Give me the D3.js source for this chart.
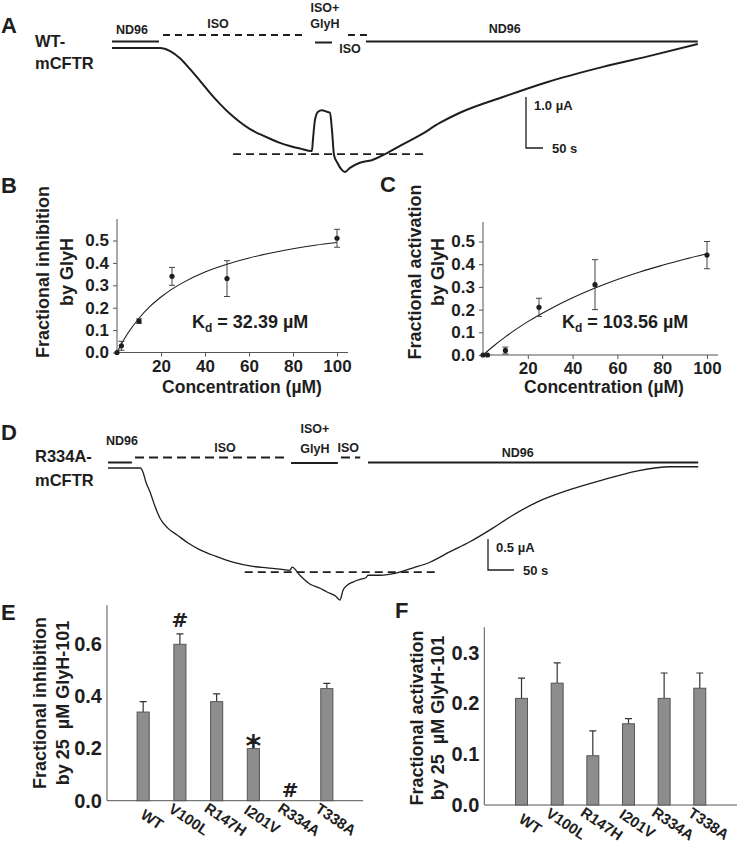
<!DOCTYPE html>
<html><head><meta charset="utf-8">
<script src="https://cdn.jsdelivr.net/npm/d3@7"></script>
<style>
body{margin:0;background:#fff}
svg{display:block}
text{font-family:"Liberation Sans",Arial,sans-serif;font-weight:bold;fill:#1e1e1e}
</style>
</head><body>
<svg id="c" width="741" height="844"></svg>
<script>
// ---------------- DATA ----------------
// Panel A: WT-mCFTR current trace [time (s), current (µA)]
const traceA = [[0,0],[141,0],[171,-0.06],[200,-0.20],[229,-0.41],[259,-0.645],[288,-0.88],[318,-1.10],[347,-1.29],[376,-1.45],[406,-1.59],[435,-1.69],[465,-1.78],[494,-1.86],[523,-1.92],[553,-1.97],[588,-2.02],[591,-1.80],[597,-1.41],[606,-1.25],[617,-1.22],[632,-1.25],[641,-1.27],[647,-1.61],[653,-2.10],[662,-2.24],[676,-2.39],[685,-2.43],[700,-2.35],[729,-2.25],[764,-2.20],[809,-2.06],[847,-1.92],[906,-1.71],[964,-1.47],[1023,-1.27],[1150,-0.96],[1279,-0.67],[1444,-0.37],[1591,-0.14],[1723,0.08]];
const protocolA = [["ND96",0,138],["ISO",150,573],["ISO+GlyH",597,647],["ISO",694,753],["ND96",747,1723]];
const baselineA = {level:-2.08, from:356, to:920};
const scaleBarA = {current:1.0, time:50};

// Panel D: R334A-mCFTR current trace [time (s), current (µA)]
const traceD = [[0,0],[62,0],[67,-0.06],[73,-0.23],[81,-0.39],[90,-0.61],[100,-0.81],[115,-0.97],[133,-1.08],[154,-1.21],[177,-1.32],[206,-1.42],[240,-1.52],[273,-1.58],[306,-1.61],[331,-1.63],[350,-1.65],[354,-1.60],[369,-1.73],[388,-1.87],[408,-1.94],[421,-2.00],[437,-2.06],[446,-2.13],[452,-1.97],[460,-1.89],[471,-1.84],[488,-1.79],[496,-1.77],[500,-1.73],[523,-1.73],[556,-1.69],[587,-1.61],[619,-1.52],[658,-1.35],[696,-1.19],[740,-0.97],[773,-0.79],[825,-0.55],[888,-0.35],[952,-0.19],[1017,-0.05],[1081,0.02],[1135,0.02]];
const protocolD = [["ND96",0,46],["ISO",52,344],["ISO+GlyH",352,442],["ISO",448,485],["ND96",500,1135]];
const baselineD = {level:-1.68, from:263, to:629};
const scaleBarD = {current:0.5, time:50};

// Panel B: fractional inhibition vs concentration
const concB = [0, 2, 10, 25, 50, 100];
const inhB = [0.0, 0.03, 0.14, 0.34, 0.33, 0.51];
const inhErrB = [0, 0.02, 0.01, 0.04, 0.08, 0.04];
const fitConcB = [0, 2, 5, 10, 15, 20, 25, 30, 40, 50, 60, 70, 80, 90, 100];
const fitB = [0, 0.038, 0.087, 0.153, 0.206, 0.248, 0.283, 0.312, 0.359, 0.394, 0.422, 0.444, 0.463, 0.479, 0.491];
const kdB = "32.39";

// Panel C: fractional activation vs concentration
const concC = [0, 2, 10, 25, 50, 100];
const actC = [0.0, 0.0, 0.02, 0.21, 0.31, 0.44];
const actErrC = [0, 0, 0.015, 0.04, 0.11, 0.06];
const fitConcC = [0, 5, 10, 20, 30, 40, 50, 60, 70, 80, 90, 100];
const fitC = [0, 0.042, 0.080, 0.147, 0.203, 0.252, 0.295, 0.333, 0.366, 0.395, 0.422, 0.446];
const kdC = "103.56";

const concTicks = [20, 40, 60, 80, 100];
const fracTicksBC = [0, 0.1, 0.2, 0.3, 0.4, 0.5];

// Panels E & F: mutants
const mutants = ["WT", "V100L", "R147H", "I201V", "R334A", "T338A"];
const inhE = [0.34, 0.60, 0.38, 0.20, 0, 0.43];
const inhErrE = [0.04, 0.04, 0.03, 0.02, 0, 0.02];
const marksE = ["", "#", "", "*", "#", ""];
const ticksE = [0, 0.2, 0.4, 0.6];
const actF = [0.21, 0.24, 0.097, 0.16, 0.21, 0.23];
const actErrF = [0.04, 0.04, 0.049, 0.01, 0.05, 0.03];
const ticksF = [0, 0.1, 0.2, 0.3];

// ---------------- DRAW ----------------
const svg = d3.select("#c");
svg.append("rect").attr("width",741).attr("height",844).attr("fill","#fff");
const ink = "#1e1e1e";
const FONT = '"Liberation Sans",Arial,sans-serif';

function panelLetter(t, x, y){
  svg.append("text").attr("x",x).attr("y",y).attr("font-size",22).text(t);
}

function drawTrace(cfg){
  const x = cfg.x, y = cfg.y;
  const g = svg.append("g");
  cfg.protocol.forEach(p=>{
    const dashed = p[0] === "ISO";
    const lvl = cfg.lvl[p[0]] !== undefined ? cfg.lvl[p[0]] : 0;
    g.append("line").attr("x1",x(p[1])).attr("x2",x(p[2]))
      .attr("y1",y(0)+lvl).attr("y2",y(0)+lvl)
      .attr("stroke",ink).attr("stroke-width",2)
      .attr("stroke-dasharray",dashed?cfg.dash:null);
  });
  cfg.labels.forEach(l=>{
    g.append("text").attr("x",x(l[1])).attr("y",l[2]).attr("text-anchor","middle")
      .attr("font-size",12.5).text(l[0]);
  });
  g.append("line").attr("x1",x(cfg.base.from)).attr("x2",x(cfg.base.to))
    .attr("y1",y(cfg.base.level)).attr("y2",y(cfg.base.level))
    .attr("stroke",ink).attr("stroke-width",1.6).attr("stroke-dasharray","8,5");
  g.append("path").datum(cfg.trace)
    .attr("d", d3.line().x(d=>x(d[0])).y(d=>y(d[1])).curve(d3.curveMonotoneX))
    .attr("fill","none").attr("stroke",ink).attr("stroke-width",cfg.tw);
  const sb = cfg.sb, bx = cfg.sbX, by = cfg.sbY;
  const h = y(-sb.current) - y(0), w = x(sb.time) - x(0);
  g.append("path").attr("d",`M${bx},${by-h}V${by}H${bx+w}`)
    .attr("fill","none").attr("stroke",ink).attr("stroke-width",1.3);
  g.append("text").attr("x",bx+8).attr("y",by-h+13).attr("font-size",13)
    .text(sb.current.toFixed(1)+" µA");
  g.append("text").attr("x",bx+w+9).attr("y",by+5).attr("font-size",13)
    .text(sb.time+" s");
  cfg.name.forEach((n,i)=>{
    g.append("text").attr("x",35).attr("y",cfg.nameY[i]).attr("font-size",16.5).text(n);
  });
}

{
  const x = d3.scaleLinear().domain([0,50]).range([112,129]);
  const y = d3.scaleLinear().domain([0,-1]).range([48,99]);
  drawTrace({x,y,trace:traceA,protocol:protocolA,base:baselineA,sb:scaleBarA,
    lvl:{"ND96":-6.5,"ISO":-13,"ISO+GlyH":-5.5}, dash:"7,5", tw:2,
    labels:[["ND96",59,34],["ISO",312,28],["ISO+",626,12],["GlyH",626,28],["ISO",700,53],["ND96",1155,33]],
    sbX:526, sbY:148, name:["WT-","mCFTR"], nameY:[47,69]});
  panelLetter("A",1,33);
}
{
  const x = d3.scaleLinear().domain([0,50]).range([108,134]);
  const y = d3.scaleLinear().domain([0,-0.5]).range([468,499]);
  drawTrace({x,y,trace:traceD,protocol:protocolD,base:baselineD,sb:scaleBarD,
    lvl:{"ND96":-5.5,"ISO":-10.5,"ISO+GlyH":-5}, dash:"9,5", tw:1.3,
    labels:[["ND96",27,445],["ISO",225,452],["ISO+",398,433],["GlyH",398,453],["ISO",462,452],["ND96",788,457]],
    sbX:488, sbY:570, name:["R334A-","mCFTR"], nameY:[462,486]});
  panelLetter("D",1,440);
}

function doseResponse(cfg){
  const g = svg.append("g");
  const x = d3.scaleLinear().domain([0,100]).range(cfg.xr);
  const y = d3.scaleLinear().domain([0,0.5]).range(cfg.yr);
  const axc = "#555";
  g.append("line").attr("x1",x(0)).attr("x2",x(0)).attr("y1",cfg.top).attr("y2",y(0)).attr("stroke",axc);
  g.append("line").attr("x1",x(0)).attr("x2",cfg.xend).attr("y1",y(0)).attr("y2",y(0)).attr("stroke",axc);
  const ya = g.append("g").attr("transform",`translate(${x(0)},0)`)
    .call(d3.axisLeft(y).tickValues(fracTicksBC).tickFormat(d3.format(".1f")).tickSize(4).tickPadding(4));
  const xa = g.append("g").attr("transform",`translate(0,${y(0)})`)
    .call(d3.axisBottom(x).tickValues(concTicks).tickSize(4).tickPadding(3));
  [ya,xa].forEach(a=>{
    a.select(".domain").remove();
    a.selectAll("line").attr("stroke",axc);
    a.selectAll("text").attr("font-size",17).attr("fill",ink);
  });
  g.append("path").datum(cfg.fitX.map((c,i)=>[c,cfg.fitY[i]]))
    .attr("d",d3.line().x(d=>x(d[0])).y(d=>y(d[1])).curve(d3.curveMonotoneX))
    .attr("fill","none").attr("stroke",ink).attr("stroke-width",1.1);
  cfg.cx.forEach((c,i)=>{
    const e = cfg.err[i]; if(!e) return;
    const xx = x(c), y1 = y(cfg.val[i]+e), y2 = y(cfg.val[i]-e);
    g.append("path").attr("d",`M${xx},${y1}V${y2}M${xx-3},${y1}H${xx+3}M${xx-3},${y2}H${xx+3}`)
      .attr("stroke","#444").attr("fill","none").attr("stroke-width",1);
  });
  g.selectAll("circle.p").data(cfg.cx).join("circle")
    .attr("cx",c=>x(c)).attr("cy",(c,i)=>y(cfg.val[i])).attr("r",2.6).attr("fill",ink);
  const t = g.append("text").attr("x",cfg.kdX).attr("y",cfg.kdY).attr("font-size",18);
  t.append("tspan").text("K");
  t.append("tspan").attr("font-size",12).attr("dy",4).text("d");
  t.append("tspan").attr("dy",-4).text(" = "+cfg.kd+" µM");
  g.append("text").attr("x",cfg.xlabX).attr("y",393).attr("text-anchor","middle").attr("font-size",17.5).text("Concentration (µM)");
  cfg.ylab.forEach((l,i)=>{
    g.append("text").attr("transform",`translate(${cfg.ylabX[i]},${cfg.ylabY}) rotate(-90)`)
      .attr("text-anchor","middle").attr("font-size",18).text(l);
  });
}
doseResponse({xr:[117,337], yr:[352.5,240.5], top:219, xend:348, cx:concB, val:inhB, err:inhErrB,
  fitX:fitConcB, fitY:fitB, kd:kdB, kdX:192, kdY:328, xlabX:242,
  ylab:["Fractional inhibition","by GlyH"], ylabX:[49,73], ylabY:272});
panelLetter("B",1,193);
doseResponse({xr:[483,707], yr:[355,241.5], top:222, xend:718, cx:concC, val:actC, err:actErrC,
  fitX:fitConcC, fitY:fitC, kd:kdC, kdX:562, kdY:328, xlabX:604,
  ylab:["Fractional activation","by GlyH"], ylabX:[421,444], ylabY:272});
panelLetter("C",380,192);

function barPanel(cfg){
  const g = svg.append("g");
  const x = d3.scaleBand().domain(mutants).range([cfg.x0,cfg.x1]).paddingInner(cfg.pi).paddingOuter(cfg.po);
  const y = d3.scaleLinear().domain(cfg.dom).range([cfg.y0,cfg.ytop]);
  const axc = "#555";
  g.append("line").attr("x1",cfg.x0).attr("x2",cfg.x0).attr("y1",cfg.ytop).attr("y2",cfg.y0).attr("stroke",axc);
  g.append("line").attr("x1",cfg.x0).attr("x2",cfg.x1).attr("y1",cfg.y0).attr("y2",cfg.y0).attr("stroke",axc);
  const ya = g.append("g").attr("transform",`translate(${cfg.x0},0)`)
    .call(d3.axisLeft(y).tickValues(cfg.ticks).tickFormat(d3.format(".1f")).tickSize(0).tickPadding(5));
  ya.select(".domain").remove();
  ya.selectAll("text").attr("font-size",20).attr("fill",ink);
  mutants.forEach((m,i)=>{
    const e = cfg.err[i]; if(!cfg.val[i]) return;
    const cx = x(m)+x.bandwidth()/2, yt = y(cfg.val[i]+e), yb = y(cfg.val[i]);
    g.append("path").attr("d",`M${cx},${yb}V${yt}M${cx-3.5},${yt}H${cx+3.5}`)
      .attr("stroke","#333").attr("stroke-width",1.2).attr("fill","none");
  });
  g.selectAll("rect.b").data(mutants.filter((m,i)=>cfg.val[i]>0)).join("rect")
    .attr("x",m=>x(m)).attr("width",x.bandwidth())
    .attr("y",m=>y(cfg.val[mutants.indexOf(m)]))
    .attr("height",m=>cfg.y0-y(cfg.val[mutants.indexOf(m)]))
    .attr("fill","#8d8d8d").attr("stroke","#555").attr("stroke-width",1);
  mutants.forEach(m=>{
    const cx = x(m)+x.bandwidth()/2 + 6;
    g.append("text").attr("transform",`translate(${cx},${cfg.y0+23}) rotate(34)`)
      .attr("text-anchor","middle").attr("font-size",15).text(m);
  });
  if(cfg.marks){
    mutants.forEach((m,i)=>{
      const mk = cfg.marks[i]; if(!mk) return;
      const cx = x(m)+x.bandwidth()/2;
      const top = y(cfg.val[i]+cfg.err[i]);
      const yy = mk==="*" ? top+13 : (cfg.val[i] ? top-7 : top-4);
      g.append("text").attr("x",cx).attr("y",yy)
        .attr("text-anchor","middle").style("font-family","'DejaVu Sans'")
        .style("font-size",(mk==="*"?30:20)+"px").text(mk);
    });
  }
  cfg.ylab.forEach((l,i)=>{
    g.append("text").attr("transform",`translate(${cfg.ylabX[i]},${cfg.ylabY}) rotate(-90)`)
      .attr("text-anchor","middle").attr("font-size",18).style("white-space","pre").text(l);
  });
}
barPanel({x0:107, x1:363, pi:0.67, po:0.82, dom:[0,0.75], y0:800.7, ytop:605.2, ticks:ticksE,
  val:inhE, err:inhErrE, marks:marksE,
  ylab:["Fractional inhibition","by 25  µM GlyH-101"], ylabX:[46,69], ylabY:703});
panelLetter("E",1,620);
barPanel({x0:484.3, x1:737, pi:0.664, po:0.876, dom:[0,0.35], y0:805, ytop:627.3, ticks:ticksF,
  val:actF, err:actErrF, marks:null,
  ylab:["Fractional activation","by 25  µM GlyH-101"], ylabX:[423,444], ylabY:718});
panelLetter("F",395,618);
</script>
</body></html>
